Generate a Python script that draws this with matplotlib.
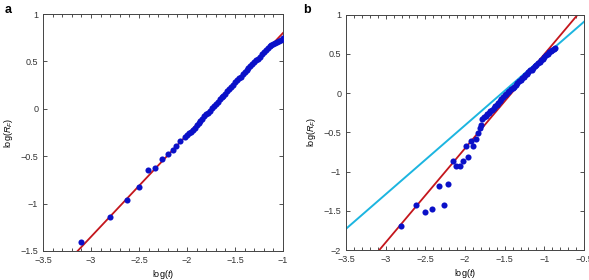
import numpy as np
import matplotlib
matplotlib.use("Agg")
import matplotlib.pyplot as plt
from matplotlib.ticker import MultipleLocator

plt.rcParams['font.family'] = ['Liberation Sans', 'DejaVu Sans']
plt.rcParams['mathtext.fontset'] = 'custom'
plt.rcParams['mathtext.it'] = 'Liberation Sans:italic'
plt.rcParams['mathtext.rm'] = 'Liberation Sans'

# Panel a : donnees
xa = [-3.10, -2.80, -2.63, -2.50, -2.41, -2.33, -2.26, -2.20, -2.15, -2.11, -2.07,
      -2.02, -2.00, -1.98, -1.96, -1.94, -1.92, -1.90, -1.88, -1.86, -1.84, -1.82, -1.80,
      -1.78, -1.76, -1.74, -1.72, -1.70, -1.68, -1.66, -1.64, -1.62, -1.60, -1.58, -1.56,
      -1.54, -1.52, -1.50, -1.48, -1.46, -1.44, -1.42, -1.40, -1.38, -1.36, -1.34, -1.32,
      -1.30, -1.28, -1.26, -1.24, -1.22, -1.20, -1.18, -1.16, -1.14, -1.12, -1.10, -1.08,
      -1.06, -1.04, -1.02, -1.00]
ya = [-1.41, -1.14, -0.96, -0.82, -0.65, -0.62, -0.53, -0.48, -0.43, -0.39, -0.34,
      -0.30, -0.28, -0.26, -0.24, -0.22, -0.20, -0.17, -0.15, -0.13, -0.11, -0.08, -0.06,
      -0.04, -0.02, 0.01, 0.03, 0.05, 0.07, 0.10, 0.12, 0.14, 0.16, 0.19, 0.21,
      0.23, 0.25, 0.28, 0.30, 0.32, 0.34, 0.37, 0.39, 0.41, 0.43, 0.45, 0.47,
      0.49, 0.51, 0.53, 0.55, 0.58, 0.60, 0.62, 0.64, 0.66, 0.67, 0.68, 0.69,
      0.70, 0.72, 0.73, 0.75]
fit_a = (1.075, 0.80)   # pente, valeur a log(t) = -1

# Panel b
xb = [-2.81, -2.62, -2.50, -2.41, -2.26, -2.33, -2.21, -2.15, -2.11, -2.06, -2.02, -1.96,
      -1.99, -1.90, -1.92, -1.86, -1.83, -1.81,
      -1.80, -1.78, -1.76, -1.74, -1.72, -1.70, -1.68, -1.66, -1.64, -1.62, -1.60, -1.58,
      -1.56, -1.54, -1.52, -1.50, -1.48, -1.46, -1.44, -1.42, -1.40, -1.38, -1.36, -1.34,
      -1.32, -1.30, -1.28, -1.26, -1.24, -1.22, -1.20, -1.18, -1.16, -1.14, -1.12, -1.10,
      -1.08, -1.06, -1.04, -1.02, -1.00, -0.98, -0.96, -0.94, -0.92, -0.90, -0.88, -0.86]
yb = [-1.69, -1.43, -1.52, -1.48, -1.43, -1.18, -1.16, -0.86, -0.93, -0.93, -0.86, -0.81,
      -0.67, -0.67, -0.61, -0.59, -0.51, -0.45,
      -0.41, -0.33, -0.30, -0.29, -0.27, -0.25, -0.23, -0.22, -0.19, -0.17, -0.15, -0.12,
      -0.10, -0.07, -0.05, -0.03, -0.01, 0.01, 0.03, 0.05, 0.07, 0.08, 0.11, 0.13,
      0.15, 0.17, 0.19, 0.21, 0.23, 0.25, 0.27, 0.29, 0.30, 0.32, 0.34, 0.36,
      0.38, 0.40, 0.42, 0.44, 0.46, 0.48, 0.50, 0.52, 0.54, 0.55, 0.56, 0.57]
fit_b_red = (1.20, -2.0, -3.08)    # pente, y, x
fit_b_cyan = (0.88, -1.73, -3.5)

rouge = '#c4161c'
cyan = '#1cb5e0'
bleu = '#0a10c8'

fig = plt.figure(figsize=(5.89, 2.80), dpi=100)
axa = fig.add_axes([43/589, 1-251/280, 240/589, 237/280])
axb = fig.add_axes([346/589, 1-250/280, 238/589, 235.3/280])


def habillage(ax, xlim, ylim, yticks):
    ax.set_xlim(*xlim)
    ax.set_ylim(*ylim)
    ax.set_xticks(np.arange(xlim[0], xlim[1] + 0.01, 0.5))
    ax.set_yticks(yticks)
    ax.xaxis.set_minor_locator(MultipleLocator(0.1))
    ax.tick_params(which='both', direction='in', top=True, right=True,
                   labelsize=6.5, colors='#333333', width=0.6)
    ax.tick_params(which='major', length=3)
    ax.tick_params(which='minor', length=2)
    ax.tick_params(axis='y', which='minor', left=False, right=False)
    for s in ax.spines.values():
        s.set_color('#444444')
        s.set_linewidth(0.7)
    ax.set_xlabel('log($t$)', fontsize=6.5, labelpad=2)
    ax.set_ylabel('log($R_F$)', fontsize=6.5, labelpad=4)
    ax.xaxis.set_major_formatter(plt.FuncFormatter(lambda v, p: ('%g' % v).replace('-', '\u2212')))
    ax.yaxis.set_major_formatter(plt.FuncFormatter(lambda v, p: ('%g' % v).replace('-', '\u2212')))


# --- a
xs = np.array([-3.5, -1.0])
axa.plot(xs, fit_a[0] * (xs + 1.0) + fit_a[1], color=rouge, lw=1.3, zorder=2)
axa.plot(xa, ya, 'o', color=bleu, ms=4.4, mec='none', zorder=3)
habillage(axa, (-3.5, -1.0), (-1.5, 1.0), [-1.5, -1, -0.5, 0, 0.5, 1])

# --- b
xs = np.array([-3.5, -0.5])
axb.plot(xs, fit_b_cyan[0] * (xs - fit_b_cyan[2]) + fit_b_cyan[1], color=cyan, lw=1.4, zorder=2)
axb.plot(xs, fit_b_red[0] * (xs - fit_b_red[2]) + fit_b_red[1], color=rouge, lw=1.3, zorder=2)
axb.plot(xb, yb, 'o', color=bleu, ms=4.4, mec='none', zorder=3)
habillage(axb, (-3.5, -0.5), (-2.0, 1.0), [-2, -1.5, -1, -0.5, 0, 0.5, 1])

fig.text(5/589, 1-10/280, 'a', fontsize=9, fontweight='bold', va='center', ha='left')
fig.text(303/589, 1-10/280, 'b', fontsize=9, fontweight='bold', va='center', ha='left')

fig.savefig('out.png', dpi=100)
